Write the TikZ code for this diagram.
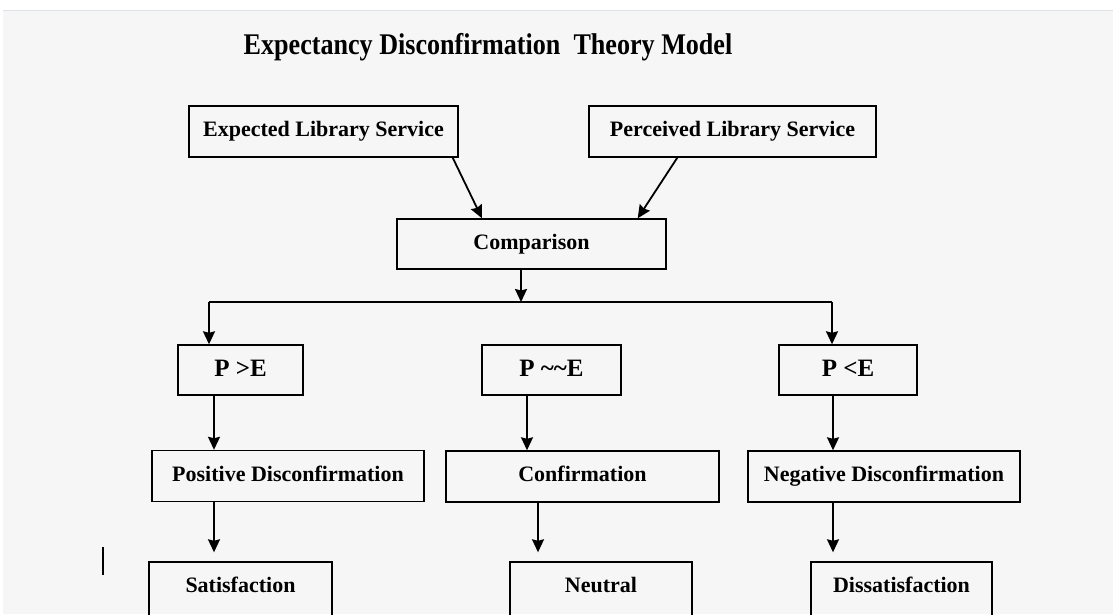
\documentclass[tikz,border=0pt]{standalone}
\usepackage{fontspec}
\setmainfont{Liberation Serif}
\newfontfamily\titlefont[FakeStretch=0.87]{Liberation Serif}
\usetikzlibrary{arrows.meta}
\definecolor{paper}{HTML}{F6F6F6}
\definecolor{rim}{HTML}{DDE2E8}

\begin{document}
\begin{tikzpicture}[x=1pt,y=-1pt]

  \useasboundingbox (0,0) rectangle (1113,614);
  \fill[white] (0,0) rectangle (1113,614);
  \fill[paper] (3,10) rectangle (1113,614);
  \draw[rim, line width=1pt] (3,10) -- (1113,10);

  \node[inner sep=0pt] (title) at (488,47)
    {\titlefont\fontsize{30}{34}\selectfont\bfseries Expectancy Disconfirmation~ Theory Model};

  % stray cursor mark
  \draw[line width=2.6pt] (103,547) -- (103,575);

  \begin{scope}[every node/.style={rectangle, draw, line width=1.4pt, inner sep=0pt,
      minimum height=51pt, text height=15pt, text depth=4.5pt,
      font=\fontsize{22}{26}\selectfont\bfseries}]
    \node[minimum width=269pt] (exp) at (323.5,131.5) {Expected Library Service};
    \node[minimum width=287pt] (per) at (732.5,131.5) {Perceived Library Service};
    \node[minimum width=269pt, minimum height=50pt] (cmp) at (531.5,244) {Comparison};
    \node[minimum width=272pt] (pos) at (288,476) {Positive Disconfirmation};
    \node[minimum width=273pt] (con) at (582.5,476.5) {Confirmation};
    \node[minimum width=272pt] (neg) at (884,476.5) {Negative Disconfirmation};
    % bottom row runs off the page
    \node[minimum width=183pt, minimum height=60pt, text depth=14.5pt] (sat) at (240.5,592) {Satisfaction};
    \node[minimum width=182pt, minimum height=60pt, text depth=14.5pt] (neu) at (601,592) {Neutral};
    \node[minimum width=181pt, minimum height=60pt, text depth=14.5pt] (dis) at (901.5,592) {Dissatisfaction};
  \end{scope}

  \begin{scope}[every node/.style={rectangle, draw, line width=1.4pt, inner sep=0pt,
      minimum height=50pt, text height=17pt, text depth=5pt,
      font=\fontsize{25}{29}\selectfont\bfseries}]
    \node[minimum width=125pt] (pgt) at (240.5,370) {P >E};
    \node[minimum width=139pt] (peq) at (551.5,370) {P \textasciitilde\textasciitilde E};
    \node[minimum width=138pt] (plt) at (848,370) {P <E};
  \end{scope}

  \coordinate (expout) at ([xshift=-6pt]exp.south east);
  \coordinate (cmpinl) at ([xshift=-49.5pt]cmp.north);
  \coordinate (perout) at ([xshift=89pt]per.south west);
  \coordinate (cmpinr) at ([xshift=-29pt]cmp.north east);
  \coordinate (cmpout) at ([xshift=-10.5pt]cmp.south);
  \coordinate (split) at (521,302);
  \coordinate (lend) at (209,302);
  \coordinate (rend) at (832,302);
  \coordinate (pgtout) at ([xshift=-26.5pt]pgt.south);
  \coordinate (peqout) at ([xshift=-24.5pt]peq.south);
  \coordinate (pltout) at ([xshift=-15pt]plt.south);
  \coordinate (posout) at ([xshift=-74pt]pos.south);
  \coordinate (conout) at ([xshift=-44.5pt]con.south);
  \coordinate (negout) at ([xshift=-51pt]neg.south);

  \draw[line width=1.8pt] (lend) -- (rend);

  \begin{scope}[every edge/.style={draw, line width=1.8pt,
      -{Stealth[length=13pt, width=12pt, inset=1.5pt]}}]
    \path (expout) edge (cmpinl);
    \path (perout) edge (cmpinr);
    \path (cmpout) edge (split);
    \path (lend)   edge (lend |- pgt.north);
    \path (rend)   edge (rend |- plt.north);
    \path (pgtout) edge (pgtout |- pos.north);
    \path (peqout) edge (peqout |- con.north);
    \path (pltout) edge (pltout |- neg.north);
    \path (posout) edge[shorten >=9pt] (posout |- sat.north);
    \path (conout) edge[shorten >=9pt] (conout |- neu.north);
    \path (negout) edge[shorten >=9pt] (negout |- dis.north);
  \end{scope}

\end{tikzpicture}
\end{document}
